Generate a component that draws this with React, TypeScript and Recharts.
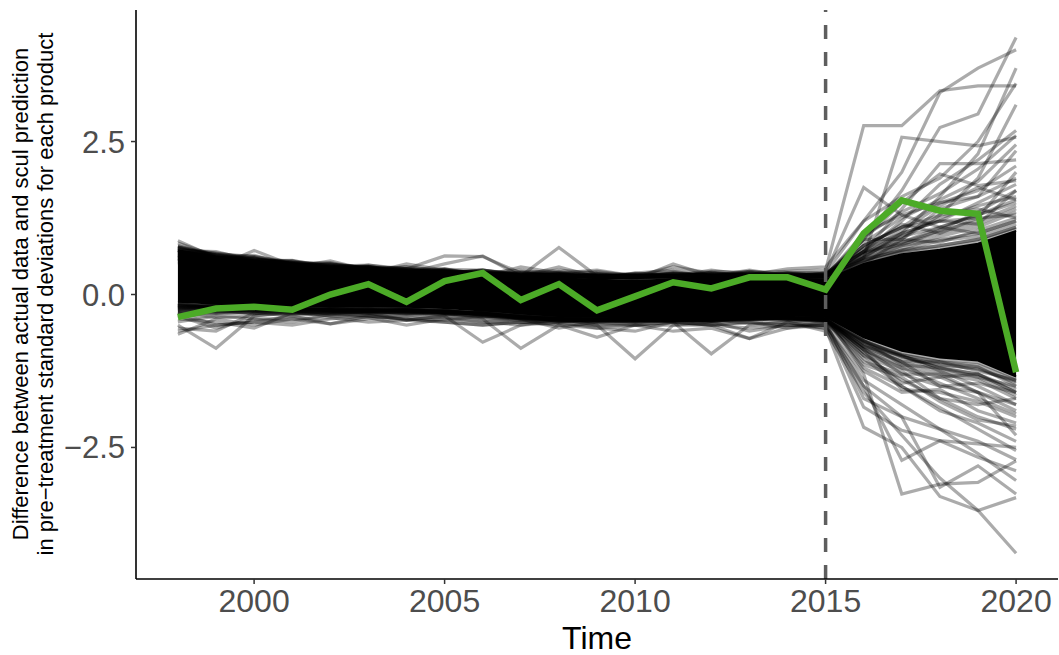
import { ComposedChart, Line, Area, XAxis, YAxis, ReferenceLine, Label } from 'recharts';

const years = [1998, 1999, 2000, 2001, 2002, 2003, 2004, 2005, 2006, 2007, 2008, 2009, 2010, 2011, 2012, 2013, 2014, 2015, 2016, 2017, 2018, 2019, 2020];

const treated = [-0.37, -0.23, -0.2, -0.25, 0.0, 0.17, -0.12, 0.22, 0.35, -0.09, 0.17, -0.26, -0.03, 0.2, 0.1, 0.28, 0.28, 0.08, 1.0, 1.54, 1.37, 1.32, -1.27];

// dense centre of the placebo lines (where they pile up to solid black)
const coreHigh = [0.72, 0.62, 0.55, 0.48, 0.42, 0.4, 0.36, 0.36, 0.33, 0.28, 0.26, 0.24, 0.22, 0.25, 0.26, 0.27, 0.26, 0.24, 0.5, 0.66, 0.73, 0.83, 1.04];
const coreLow = [-0.12, -0.15, -0.17, -0.18, -0.2, -0.2, -0.2, -0.22, -0.26, -0.31, -0.35, -0.36, -0.37, -0.36, -0.37, -0.35, -0.33, -0.36, -0.7, -0.92, -1.03, -1.08, -1.34];

// lines hugging the edges of the dense centre
const edgeUpper = [
  [0.75, 0.65, 0.58, 0.51, 0.45, 0.43, 0.39, 0.39, 0.36, 0.31, 0.29, 0.27, 0.25, 0.28, 0.29, 0.3, 0.29, 0.27, 0.53, 0.69, 0.76, 0.86, 1.07],
  [0.78, 0.67, 0.62, 0.53, 0.49, 0.45, 0.42, 0.41, 0.4, 0.33, 0.33, 0.3, 0.29, 0.3, 0.33, 0.32, 0.33, 0.3, 0.56, 0.73, 0.8, 0.9, 1.1],
  [0.8, 0.62, 0.6, 0.5, 0.45, 0.46, 0.36, 0.38, 0.33, 0.3, 0.36, 0.27, 0.28, 0.34, 0.3, 0.35, 0.3, 0.28, 0.6, 0.8, 0.9, 1.0, 1.2],
  [0.72, 0.7, 0.55, 0.56, 0.44, 0.4, 0.42, 0.34, 0.4, 0.32, 0.28, 0.34, 0.27, 0.28, 0.36, 0.3, 0.36, 0.34, 0.55, 0.75, 0.95, 1.1, 1.35],
  [0.78, 0.6, 0.64, 0.48, 0.5, 0.43, 0.37, 0.42, 0.32, 0.36, 0.31, 0.28, 0.33, 0.38, 0.29, 0.38, 0.29, 0.3, 0.65, 0.9, 0.85, 1.05, 1.25],
  [0.7, 0.66, 0.57, 0.53, 0.46, 0.48, 0.4, 0.36, 0.38, 0.33, 0.34, 0.32, 0.29, 0.29, 0.34, 0.3, 0.34, 0.36, 0.7, 0.85, 1.05, 1.2, 1.45],
  [0.84, 0.63, 0.56, 0.52, 0.48, 0.44, 0.42, 0.34, 0.36, 0.3, 0.32, 0.3, 0.34, 0.31, 0.3, 0.34, 0.3, 0.29, 0.58, 0.72, 0.88, 0.95, 1.15],
  [0.73, 0.68, 0.59, 0.51, 0.52, 0.41, 0.39, 0.4, 0.36, 0.31, 0.29, 0.33, 0.3, 0.33, 0.31, 0.29, 0.33, 0.31, 0.62, 0.95, 1.1, 1.3, 1.55],
  [0.75, 0.65, 0.62, 0.5, 0.43, 0.46, 0.36, 0.36, 0.34, 0.35, 0.31, 0.28, 0.29, 0.31, 0.33, 0.31, 0.32, 0.33, 0.75, 1.0, 1.2, 1.25, 1.3],
  [0.78, 0.62, 0.57, 0.55, 0.47, 0.41, 0.37, 0.38, 0.32, 0.3, 0.33, 0.3, 0.31, 0.29, 0.29, 0.32, 0.31, 0.3, 0.52, 0.7, 0.8, 0.9, 1.1],
  [0.77, 0.64, 0.55, 0.49, 0.46, 0.44, 0.38, 0.34, 0.35, 0.31, 0.3, 0.29, 0.3, 0.34, 0.31, 0.3, 0.29, 0.3, 0.68, 0.82, 1.0, 1.15, 1.7],
  [0.72, 0.6, 0.58, 0.5, 0.44, 0.42, 0.39, 0.36, 0.33, 0.3, 0.32, 0.29, 0.28, 0.3, 0.3, 0.31, 0.3, 0.32, 0.8, 1.1, 1.3, 1.4, 1.25],
];

const edgeLower = [
  [-0.15, -0.18, -0.2, -0.21, -0.23, -0.23, -0.23, -0.25, -0.29, -0.34, -0.38, -0.39, -0.4, -0.39, -0.4, -0.38, -0.36, -0.39, -0.73, -0.95, -1.06, -1.11, -1.37],
  [-0.18, -0.21, -0.23, -0.24, -0.26, -0.25, -0.26, -0.28, -0.32, -0.37, -0.4, -0.42, -0.42, -0.42, -0.43, -0.4, -0.39, -0.42, -0.76, -0.99, -1.1, -1.15, -1.4],
  [-0.2, -0.18, -0.2, -0.26, -0.24, -0.24, -0.28, -0.26, -0.3, -0.4, -0.4, -0.44, -0.4, -0.4, -0.44, -0.38, -0.36, -0.4, -0.8, -1.05, -1.15, -1.2, -1.45],
  [-0.14, -0.24, -0.22, -0.2, -0.27, -0.25, -0.22, -0.3, -0.29, -0.35, -0.44, -0.4, -0.42, -0.43, -0.41, -0.38, -0.4, -0.38, -0.75, -1.0, -1.2, -1.3, -1.55],
  [-0.24, -0.17, -0.23, -0.23, -0.25, -0.28, -0.25, -0.25, -0.34, -0.37, -0.39, -0.42, -0.45, -0.41, -0.39, -0.41, -0.37, -0.44, -0.85, -1.1, -1.1, -1.25, -1.4],
  [-0.15, -0.22, -0.21, -0.25, -0.24, -0.26, -0.27, -0.28, -0.3, -0.38, -0.41, -0.45, -0.4, -0.42, -0.44, -0.39, -0.35, -0.4, -0.9, -1.15, -1.3, -1.4, -1.7],
  [-0.22, -0.2, -0.25, -0.22, -0.22, -0.24, -0.24, -0.29, -0.32, -0.36, -0.39, -0.4, -0.42, -0.44, -0.4, -0.42, -0.38, -0.43, -0.78, -0.98, -1.1, -1.18, -1.5],
  [-0.16, -0.2, -0.21, -0.26, -0.28, -0.27, -0.24, -0.27, -0.31, -0.39, -0.43, -0.41, -0.44, -0.4, -0.42, -0.37, -0.4, -0.42, -0.95, -1.2, -1.35, -1.3, -1.6],
  [-0.19, -0.18, -0.24, -0.22, -0.24, -0.25, -0.27, -0.26, -0.33, -0.35, -0.4, -0.42, -0.41, -0.41, -0.43, -0.41, -0.37, -0.4, -0.82, -1.1, -1.25, -1.5, -1.8],
  [-0.17, -0.23, -0.22, -0.24, -0.24, -0.24, -0.25, -0.27, -0.3, -0.37, -0.41, -0.43, -0.4, -0.4, -0.4, -0.39, -0.39, -0.41, -0.76, -1.02, -1.15, -1.22, -1.42],
  [-0.21, -0.18, -0.21, -0.21, -0.26, -0.25, -0.24, -0.3, -0.31, -0.36, -0.4, -0.4, -0.42, -0.41, -0.39, -0.38, -0.37, -0.4, -0.88, -1.3, -1.5, -1.6, -1.9],
  [-0.15, -0.19, -0.2, -0.23, -0.24, -0.27, -0.24, -0.27, -0.3, -0.36, -0.42, -0.41, -0.41, -0.44, -0.41, -0.38, -0.4, -0.41, -0.85, -1.0, -1.2, -1.35, -1.65],
];

// lines further out, including the visible outliers
const placeboUpper = [
  [0.88, 0.6, 0.42, 0.5, 0.38, 0.45, 0.3, 0.35, 0.4, 0.3, 0.45, 0.28, 0.3, 0.35, 0.3, 0.32, 0.35, 0.3, 1.0, 1.3, 1.5, 1.7, 2.1],
  [0.75, 0.45, 0.72, 0.48, 0.5, 0.42, 0.45, 0.38, 0.35, 0.28, 0.3, 0.25, 0.28, 0.3, 0.32, 0.3, 0.3, 0.25, 0.8, 1.1, 1.2, 1.5, 1.8],
  [0.7, 0.62, 0.55, 0.45, 0.55, 0.4, 0.35, 0.5, 0.63, 0.3, 0.77, 0.3, 0.25, 0.5, 0.3, 0.4, 0.3, 0.35, 1.75, 1.3, 1.1, 1.0, 1.2],
  [0.6, 0.65, 0.5, 0.55, 0.4, 0.48, 0.42, 0.63, 0.62, 0.35, 0.4, 0.35, 0.32, 0.28, 0.38, 0.36, 0.38, 0.4, 2.76, 2.76, 3.33, 3.41, 3.41],
  [0.55, 0.5, 0.6, 0.4, 0.45, 0.35, 0.5, 0.4, 0.3, 0.45, 0.35, 0.4, 0.3, 0.45, 0.35, 0.3, 0.28, 0.2, 0.6, 2.57, 2.5, 2.43, 2.57],
  [0.68, 0.55, 0.45, 0.5, 0.35, 0.42, 0.38, 0.3, 0.35, 0.4, 0.3, 0.25, 0.35, 0.3, 0.4, 0.32, 0.42, 0.45, 1.2, 2.0, 3.3, 3.7, 4.0],
  [0.62, 0.58, 0.5, 0.42, 0.48, 0.38, 0.35, 0.42, 0.3, 0.32, 0.38, 0.3, 0.28, 0.32, 0.28, 0.35, 0.3, 0.28, 0.9, 1.7, 2.73, 2.95, 4.2],
  [0.58, 0.45, 0.55, 0.5, 0.42, 0.45, 0.4, 0.35, 0.38, 0.3, 0.33, 0.28, 0.35, 0.4, 0.3, 0.38, 0.32, 0.3, 0.7, 1.4, 2.14, 2.14, 2.2],
  [0.65, 0.5, 0.48, 0.52, 0.4, 0.35, 0.42, 0.38, 0.32, 0.35, 0.3, 0.32, 0.3, 0.35, 0.32, 0.28, 0.35, 0.32, 0.9, 1.5, 1.97, 1.78, 1.86],
  [0.5, 0.55, 0.42, 0.45, 0.5, 0.38, 0.3, 0.35, 0.4, 0.32, 0.28, 0.35, 0.25, 0.3, 0.35, 0.3, 0.28, 0.35, 0.6, 1.0, 1.6, 2.3, 3.7],
  [0.72, 0.5, 0.5, 0.38, 0.42, 0.45, 0.35, 0.32, 0.3, 0.38, 0.35, 0.3, 0.32, 0.28, 0.3, 0.35, 0.3, 0.25, 0.5, 0.9, 1.3, 1.9, 3.1],
  [0.55, 0.6, 0.45, 0.48, 0.38, 0.4, 0.45, 0.35, 0.35, 0.3, 0.32, 0.38, 0.3, 0.32, 0.3, 0.3, 0.32, 0.3, 0.7, 1.2, 1.8, 2.2, 2.68],
  [0.6, 0.52, 0.5, 0.4, 0.45, 0.38, 0.32, 0.4, 0.33, 0.3, 0.35, 0.28, 0.32, 0.3, 0.35, 0.32, 0.3, 0.35, 1.2, 1.6, 1.9, 2.5, 3.45],
  [0.52, 0.48, 0.45, 0.5, 0.35, 0.4, 0.38, 0.3, 0.35, 0.32, 0.3, 0.3, 0.28, 0.35, 0.3, 0.32, 0.35, 0.28, 0.8, 1.1, 1.5, 1.6, 2.35],
  [0.66, 0.55, 0.52, 0.44, 0.4, 0.36, 0.4, 0.36, 0.3, 0.34, 0.3, 0.26, 0.3, 0.32, 0.28, 0.3, 0.3, 0.32, 0.7, 0.95, 1.25, 1.45, 1.6],
  [0.58, 0.5, 0.46, 0.42, 0.44, 0.4, 0.34, 0.38, 0.36, 0.28, 0.32, 0.3, 0.26, 0.3, 0.3, 0.28, 0.28, 0.3, 0.6, 0.85, 1.1, 1.3, 1.5],
  [0.62, 0.56, 0.48, 0.46, 0.38, 0.42, 0.36, 0.32, 0.34, 0.3, 0.28, 0.32, 0.3, 0.28, 0.32, 0.3, 0.26, 0.28, 0.65, 1.0, 1.2, 1.15, 1.4],
  [0.7, 0.52, 0.5, 0.48, 0.42, 0.38, 0.36, 0.34, 0.32, 0.32, 0.3, 0.28, 0.28, 0.3, 0.3, 0.28, 0.3, 0.3, 0.9, 0.9, 1.4, 1.6, 1.9],
  [0.56, 0.58, 0.44, 0.44, 0.4, 0.36, 0.38, 0.3, 0.3, 0.28, 0.34, 0.26, 0.28, 0.3, 0.26, 0.3, 0.32, 0.26, 0.55, 0.8, 1.05, 1.35, 1.7],
  [0.64, 0.5, 0.52, 0.4, 0.44, 0.34, 0.34, 0.36, 0.34, 0.3, 0.3, 0.3, 0.26, 0.28, 0.28, 0.3, 0.28, 0.3, 0.75, 1.15, 1.0, 1.25, 2.0],
  [0.6, 0.54, 0.48, 0.44, 0.4, 0.37, 0.33, 0.32, 0.31, 0.29, 0.3, 0.27, 0.29, 0.31, 0.29, 0.3, 0.31, 0.33, 0.85, 1.25, 1.55, 1.85, 2.45],
  [0.67, 0.57, 0.53, 0.47, 0.41, 0.39, 0.35, 0.33, 0.32, 0.3, 0.29, 0.3, 0.3, 0.29, 0.3, 0.32, 0.29, 0.31, 0.95, 1.35, 1.65, 2.05, 2.6],
  [0.63, 0.55, 0.5, 0.46, 0.43, 0.36, 0.36, 0.35, 0.3, 0.31, 0.31, 0.29, 0.28, 0.3, 0.31, 0.29, 0.3, 0.29, 0.7, 1.05, 1.45, 1.75, 1.55],
];

const placeboLower = [
  [-0.5, -0.88, -0.35, -0.3, -0.3, -0.35, -0.3, -0.32, -0.4, -0.45, -0.4, -0.5, -0.45, -0.4, -0.45, -0.4, -0.42, -0.5, -1.84, -2.22, -2.39, -2.66, -2.88],
  [-0.65, -0.4, -0.5, -0.4, -0.48, -0.35, -0.42, -0.35, -0.78, -0.5, -0.45, -0.55, -0.6, -0.45, -0.5, -0.72, -0.45, -0.55, -2.17, -2.5, -3.3, -3.53, -3.32],
  [-0.3, -0.5, -0.45, -0.35, -0.3, -0.3, -0.42, -0.35, -0.4, -0.88, -0.5, -0.7, -0.5, -0.45, -0.97, -0.5, -0.45, -0.6, -1.6, -2.3, -3.0, -3.53, -4.23],
  [-0.55, -0.6, -0.3, -0.35, -0.48, -0.4, -0.35, -0.38, -0.45, -0.5, -0.4, -0.5, -1.05, -0.5, -0.5, -0.45, -0.5, -0.5, -1.3, -3.26, -3.1, -3.07, -2.72],
  [-0.4, -0.45, -0.55, -0.3, -0.35, -0.38, -0.5, -0.4, -0.45, -0.4, -0.55, -0.45, -0.5, -0.5, -0.45, -0.6, -0.5, -0.55, -1.5, -2.71, -2.39, -2.44, -2.5],
  [-0.35, -0.55, -0.4, -0.4, -0.38, -0.45, -0.42, -0.45, -0.5, -0.45, -0.48, -0.5, -0.5, -0.6, -0.55, -0.72, -0.55, -0.45, -1.7, -2.0, -3.15, -2.8, -3.26],
  [-0.45, -0.35, -0.4, -0.45, -0.32, -0.35, -0.4, -0.42, -0.35, -0.4, -0.45, -0.42, -0.4, -0.45, -0.5, -0.45, -0.55, -0.5, -1.4, -1.8, -2.2, -2.6, -3.04],
  [-0.3, -0.38, -0.35, -0.28, -0.35, -0.3, -0.35, -0.3, -0.38, -0.42, -0.45, -0.4, -0.45, -0.42, -0.4, -0.48, -0.45, -0.42, -1.2, -1.5, -1.9, -2.1, -2.4],
  [-0.25, -0.3, -0.3, -0.32, -0.28, -0.3, -0.3, -0.32, -0.35, -0.38, -0.42, -0.45, -0.42, -0.4, -0.42, -0.38, -0.4, -0.45, -1.0, -1.4, -1.7, -2.0, -2.2],
  [-0.2, -0.28, -0.25, -0.28, -0.3, -0.28, -0.25, -0.3, -0.32, -0.35, -0.4, -0.38, -0.4, -0.38, -0.4, -0.36, -0.38, -0.4, -0.9, -1.2, -1.45, -1.7, -1.95],
  [-0.32, -0.25, -0.32, -0.22, -0.26, -0.3, -0.28, -0.28, -0.3, -0.36, -0.38, -0.4, -0.38, -0.42, -0.38, -0.4, -0.36, -0.38, -1.1, -1.3, -1.3, -1.6, -1.8],
  [-0.28, -0.32, -0.28, -0.3, -0.24, -0.26, -0.32, -0.26, -0.34, -0.4, -0.36, -0.42, -0.38, -0.36, -0.4, -0.34, -0.36, -0.4, -0.85, -1.1, -1.5, -1.45, -1.6],
  [-0.22, -0.26, -0.3, -0.26, -0.28, -0.24, -0.26, -0.3, -0.3, -0.34, -0.38, -0.36, -0.42, -0.38, -0.36, -0.38, -0.34, -0.36, -1.25, -1.6, -1.55, -1.9, -2.1],
  [-0.36, -0.3, -0.26, -0.3, -0.32, -0.28, -0.3, -0.28, -0.36, -0.38, -0.4, -0.38, -0.36, -0.4, -0.42, -0.36, -0.4, -0.38, -0.8, -1.0, -1.25, -1.35, -1.5],
  [-0.26, -0.22, -0.28, -0.24, -0.22, -0.28, -0.24, -0.26, -0.32, -0.36, -0.34, -0.38, -0.36, -0.34, -0.38, -0.36, -0.32, -0.36, -1.0, -1.25, -1.7, -1.8, -1.7],
  [-0.3, -0.26, -0.24, -0.26, -0.3, -0.26, -0.28, -0.34, -0.28, -0.32, -0.36, -0.4, -0.34, -0.38, -0.34, -0.32, -0.38, -0.42, -0.95, -1.45, -1.35, -1.6, -2.3],
  [-0.24, -0.28, -0.22, -0.28, -0.26, -0.24, -0.3, -0.28, -0.3, -0.3, -0.34, -0.36, -0.38, -0.36, -0.36, -0.34, -0.34, -0.4, -0.75, -1.15, -1.2, -1.3, -1.6],
  [-0.6, -0.5, -0.45, -0.5, -0.4, -0.35, -0.4, -0.45, -0.5, -0.45, -0.5, -0.55, -0.5, -0.45, -0.5, -0.55, -0.5, -0.5, -1.5, -2.0, -2.2, -2.4, -2.7],
  [-0.2, -0.24, -0.26, -0.27, -0.29, -0.27, -0.29, -0.31, -0.33, -0.39, -0.43, -0.44, -0.43, -0.43, -0.42, -0.4, -0.38, -0.44, -1.05, -1.5, -1.85, -2.2, -2.55],
  [-0.26, -0.21, -0.27, -0.25, -0.26, -0.29, -0.26, -0.3, -0.35, -0.4, -0.42, -0.43, -0.44, -0.42, -0.44, -0.41, -0.41, -0.43, -1.15, -1.35, -1.75, -2.05, -2.15],
  [-0.18, -0.25, -0.24, -0.25, -0.27, -0.3, -0.28, -0.29, -0.32, -0.38, -0.43, -0.42, -0.43, -0.43, -0.41, -0.4, -0.39, -0.42, -0.9, -1.55, -1.6, -1.75, -2.0],
];

const xTicks = [2000, 2005, 2010, 2015, 2020];
const yTicks = [-2.5, 0, 2.5];

const placebos = [...edgeUpper, ...edgeLower, ...placeboUpper, ...placeboLower];

const data = years.map((year, i) => {
  const row: Record<string, any> = { year, treated: treated[i], core: [coreLow[i], coreHigh[i]] };
  placebos.forEach((p, j) => {
    row[`p${j}`] = p[i];
  });
  return row;
});

const FONT = '"Liberation Sans", Arial, Helvetica, sans-serif';

const fmtY = (v: number) => (v < 0 ? '\u2212' : '') + Math.abs(v).toFixed(1);

export default function App() {
  return (
    <div style={{ position: 'absolute', left: 0, top: 0, width: 1059, height: 655, background: '#fff' }}>
      <ComposedChart width={1059} height={655} data={data} margin={{ top: 10, right: 1, bottom: 0, left: 0 }}>
        <XAxis
          dataKey="year"
          type="number"
          domain={[1996.9, 2021.1]}
          ticks={xTicks}
          allowDataOverflow
          height={76}
          tickSize={5}
          tickMargin={5}
          axisLine={{ stroke: '#000', strokeWidth: 1.6 }}
          tickLine={{ stroke: '#333', strokeWidth: 1.5 }}
          tick={{ fill: '#4d4d4d', fontSize: 32, fontFamily: FONT }}
        >
          <Label
            content={() => (
              <text x={597} y={649} textAnchor="middle" fontSize={32} fontFamily={FONT} fill="#000">
                Time
              </text>
            )}
          />
        </XAxis>
        <YAxis
          type="number"
          domain={[-4.65, 4.65]}
          ticks={yTicks}
          allowDataOverflow
          width={136}
          tickSize={5}
          tickMargin={6}
          tickFormatter={fmtY}
          axisLine={{ stroke: '#000', strokeWidth: 1.6 }}
          tickLine={{ stroke: '#333', strokeWidth: 1.5 }}
          tick={{ fill: '#4d4d4d', fontSize: 31, fontFamily: FONT }}
        >
          <Label
            content={() => (
              <g fontFamily={FONT} fontSize={22} fill="#000">
                <text x={20} y={294} textAnchor="middle" dominantBaseline="central" transform="rotate(-90 20 294)">
                  Difference between actual data and scul prediction
                </text>
                <text x={45} y={294} textAnchor="middle" dominantBaseline="central" transform="rotate(-90 45 294)">
                  in pre−treatment standard deviations for each product
                </text>
              </g>
            )}
          />
        </YAxis>
        <Area
          dataKey="core"
          type="linear"
          stroke="#000"
          strokeWidth={2}
          fill="#000"
          fillOpacity={1}
          isAnimationActive={false}
        />
        {placebos.map((_, j) => (
          <Line
            key={`p${j}`}
            dataKey={`p${j}`}
            type="linear"
            stroke="#000"
            strokeOpacity={0.33}
            strokeWidth={3.2}
            dot={false}
            activeDot={false}
            isAnimationActive={false}
          />
        ))}
        <ReferenceLine x={2015} stroke="#5e5e5e" strokeWidth={3.5} strokeDasharray="14 13" />
        <Line
          dataKey="treated"
          type="linear"
          stroke="#4cab27"
          strokeWidth={6.5}
          dot={false}
          activeDot={false}
          isAnimationActive={false}
        />
      </ComposedChart>
    </div>
  );
}
